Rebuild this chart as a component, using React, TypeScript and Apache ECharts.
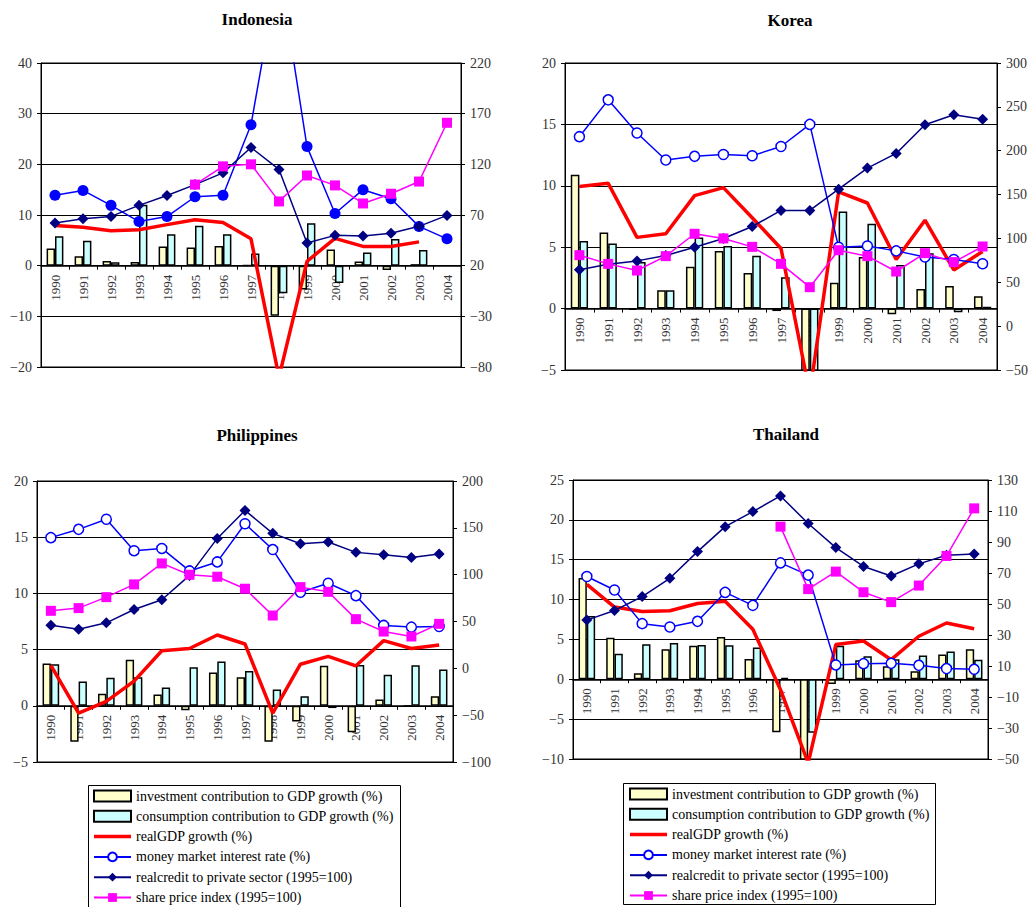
import React, { useEffect, useRef } from 'react';
import * as echarts from 'echarts';

const years = ['1990', '1991', '1992', '1993', '1994', '1995', '1996', '1997', '1998', '1999', '2000', '2001', '2002', '2003', '2004'];

const seriesNames = [
  'investment contribution to GDP growth (%)',
  'consumption contribution to GDP growth (%)',
  'realGDP growth (%)',
  'money market interest rate (%)',
  'realcredit to private sector (1995=100)',
  'share price index (1995=100)',
];

// Indonesia
const idnInvestment = [3.4, 1.85, 0.9, 0.7, 3.8, 3.6, 3.9, 0.1, -9.9, -4.7, 3.2, 0.8, -0.85, 0.3, null];
const idnConsumption = [5.8, 4.9, 0.65, 12.0, 6.2, 7.9, 6.2, 2.4, -5.45, 8.35, -3.4, 2.6, 5.25, 3.1, null];
const idnGdp = [7.95, 7.6, 6.9, 7.1, 8.1, 9.05, 8.5, 5.3, -22, 0.85, 5.4, 3.8, 3.8, 4.7, null];
const idnRate = [13.9, 14.85, 11.9, 8.7, 9.7, 13.6, 13.9, 27.8, 59, 23.5, 10.3, 15.0, 13.2, 7.75, 5.3];
const idnCredit = [62, 66.3, 68.6, 79.5, 89.3, 100, 111.6, 136.6, 115, 42.3, 49.9, 49.2, 52, 58.8, 69.6];
const idnShare = [null, null, null, null, null, 100, 118, 120, 83.4, 109, 99.2, 81.4, 91, 103, 161];

// Korea
const korInvestment = [10.9, 6.2, -0.1, 1.5, 3.4, 4.7, 2.9, -0.2, -10.5, 2.1, 4.2, -0.45, 1.6, 1.85, 1.0];
const korConsumption = [5.5, 5.3, 3.8, 1.5, 5.8, 5.1, 4.3, 2.55, -6, 7.9, 6.9, 3.55, 4.5, -0.3, 0.15];
const korGdp = [9.95, 10.2, 5.8, 6.1, 9.2, 9.85, 7.4, 4.9, -6.9, 9.5, 8.6, 4.0, 7.2, 3.15, 4.65];
const korRate = [14.0, 17.0, 14.3, 12.1, 12.4, 12.55, 12.45, 13.2, 15.0, 5.0, 5.1, 4.7, 4.2, 4.0, 3.65];
const korCredit = [64.2, 70.6, 74.4, 80.5, 90.0, 99.9, 113.6, 131.9, 131.9, 156.2, 180.2, 196.9, 229.6, 241, 236];
const korShare = [80.9, 71, 63.4, 79.8, 105.3, 100, 90.4, 71, 44.4, 86.6, 79.8, 62.3, 83.2, 73, 90.8];

// Philippines
const phlInvestment = [3.77, -3.2, 1.07, 4.1, 1.0, -0.4, 2.97, 2.55, -3.2, -1.4, 3.56, -2.35, 0.56, -0.05, 0.86];
const phlConsumption = [3.7, 2.17, 2.5, 2.55, 1.63, 3.44, 3.95, 3.1, 1.45, 0.86, -0.2, 3.62, 2.76, 3.6, 3.24];
const phlGdp = [3.6, -0.65, 0.4, 2.2, 4.9, 5.1, 6.3, 5.5, -0.65, 3.7, 4.4, 3.56, 5.8, 5.1, 5.4];
const phlRate = [14.96, 15.7, 16.6, 13.8, 14.0, 12.0, 12.8, 16.2, 13.9, 10.1, 10.9, 9.8, 7.15, 7.0, 7.05];
const phlCredit = [46.1, 41.8, 48.6, 62.8, 73.2, 99.2, 138.7, 168.6, 144.1, 133, 134.8, 123.8, 121.3, 118.4, 122];
const phlShare = [61.4, 64.3, 76, 89.6, 112, 99.9, 97.8, 85, 56.4, 86.7, 81.7, 52.5, 39.3, 34, 47.5];

// Thailand
const thaInvestment = [12.7, 5.2, 0.75, 3.76, 4.2, 5.3, 2.55, -6.64, -10.8, -0.58, 2.38, 1.63, 1.0, 3.1, 3.76];
const thaConsumption = [7.94, 3.2, 4.4, 4.55, 4.3, 4.26, 4.0, 0.17, -6.7, 4.2, 2.88, 2.5, 2.97, 3.47, 2.46];
const thaGdp = [11.9, 9.06, 8.5, 8.6, 9.5, 9.8, 6.27, -1.3, -10.5, 4.35, 4.8, 2.46, 5.4, 7.06, 6.35];
const thaRate = [12.9, 11.2, 6.98, 6.56, 7.27, 10.9, 9.27, 14.6, 13.07, 1.8, 1.96, 2.0, 1.75, 1.34, 1.25];
const thaCredit = [39.6, 45.8, 54.8, 66.6, 83.8, 99.9, 109.6, 119.7, 101.9, 86.4, 74.2, 68.1, 75.9, 81.5, 82.3];
const thaShare = [null, null, null, null, null, null, null, 99.9, 59.6, 70.9, 57.6, 51.2, 61.9, 81, 111.7];

const FONT = '"Liberation Serif", "DejaVu Serif", serif';

type Panel = {
  title: string;
  titleX: number;
  titleY: number;
  grid: { left: number; top: number; width: number; height: number };
  left: [number, number, number];
  right: [number, number, number];
  filledRate: boolean;
  inv: (number | null)[];
  cons: (number | null)[];
  gdp: (number | null)[];
  rate: (number | null)[];
  credit: (number | null)[];
  share: (number | null)[];
};

const panels: Panel[] = [
  {
    title: 'Korea', titleX: 785, titleY: 7,
    grid: { left: 565, top: 63, width: 432, height: 307 },
    left: [-5, 20, 5], right: [-50, 300, 50], filledRate: false,
    inv: korInvestment, cons: korConsumption, gdp: korGdp, rate: korRate, credit: korCredit, share: korShare,
  },
  {
    title: 'Philippines', titleX: 252, titleY: 422,
    grid: { left: 37, top: 481, width: 416, height: 281 },
    left: [-5, 20, 5], right: [-100, 200, 50], filledRate: false,
    inv: phlInvestment, cons: phlConsumption, gdp: phlGdp, rate: phlRate, credit: phlCredit, share: phlShare,
  },
  {
    title: 'Thailand', titleX: 781, titleY: 421,
    grid: { left: 573, top: 480, width: 415, height: 279 },
    left: [-10, 25, 5], right: [-50, 130, 20], filledRate: false,
    inv: thaInvestment, cons: thaConsumption, gdp: thaGdp, rate: thaRate, credit: thaCredit, share: thaShare,
  },
  {
    title: 'Indonesia', titleX: 252, titleY: 6,
    grid: { left: 41, top: 63, width: 420, height: 304 },
    left: [-20, 40, 10], right: [-80, 220, 50], filledRate: true,
    inv: idnInvestment, cons: idnConsumption, gdp: idnGdp, rate: idnRate, credit: idnCredit, share: idnShare,
  },
];

const fmt = (v: number) => (v < 0 ? '\u2212' + Math.abs(v) : String(v));

function buildOption() {
  const grids: any[] = [];
  const xAxes: any[] = [];
  const yAxes: any[] = [];
  const series: any[] = [];
  const titles: any[] = [];

  panels.forEach((p, i) => {
    grids.push({ ...p.grid, show: true, borderColor: '#000', borderWidth: 1, backgroundColor: '#fff', containLabel: false });
    titles.push({
      text: p.title, left: p.titleX, top: p.titleY, textAlign: 'center',
      textStyle: { fontFamily: FONT, fontSize: 17, fontWeight: 'bold', color: '#000' },
    });
    // place the category axis on the zero line of the left value axis
    const zeroOffset = -p.grid.height * (0 - p.left[0]) / (p.left[1] - p.left[0]);
    xAxes.push({
      type: 'category', gridIndex: i, data: years, boundaryGap: true,
      position: 'bottom', offset: zeroOffset,
      axisLine: { show: true, onZero: false, lineStyle: { color: '#000', width: 1.5 } },
      axisTick: { show: true, length: 4, lineStyle: { color: '#000', width: 1 } },
      axisLabel: { rotate: 90, interval: 0, fontFamily: FONT, fontSize: 13, color: '#333', margin: 9 },
      splitLine: { show: false },
    });
    yAxes.push({
      type: 'value', gridIndex: i, position: 'left',
      min: p.left[0], max: p.left[1], interval: p.left[2],
      axisLine: { show: true, lineStyle: { color: '#000' } },
      axisTick: { show: true, length: 4, lineStyle: { color: '#000' } },
      axisLabel: { fontFamily: FONT, fontSize: 14, color: '#333', margin: 9, formatter: fmt },
      splitLine: { show: true, lineStyle: { color: '#000', width: 1 } },
    });
    yAxes.push({
      type: 'value', gridIndex: i, position: 'right',
      min: p.right[0], max: p.right[1], interval: p.right[2],
      axisLine: { show: true, lineStyle: { color: '#000' } },
      axisTick: { show: true, length: 4, lineStyle: { color: '#000' } },
      axisLabel: { fontFamily: FONT, fontSize: 14, color: '#333', margin: 9, formatter: fmt },
      splitLine: { show: false },
    });
    const xi = i;
    const yl = 2 * i;
    const yr = 2 * i + 1;
    series.push({
      type: 'bar', name: seriesNames[0], xAxisIndex: xi, yAxisIndex: yl, data: p.inv,
      barGap: '0%', barCategoryGap: '40%',
      itemStyle: { color: '#FFFFCC', borderColor: '#000', borderWidth: 1.5 },
    });
    series.push({
      type: 'bar', name: seriesNames[1], xAxisIndex: xi, yAxisIndex: yl, data: p.cons,
      barGap: '0%', barCategoryGap: '40%',
      itemStyle: { color: '#CCFFFF', borderColor: '#000', borderWidth: 1.5 },
    });
    series.push({
      type: 'line', name: seriesNames[2], xAxisIndex: xi, yAxisIndex: yl, data: p.gdp,
      symbol: 'none', connectNulls: false,
      lineStyle: { color: '#FF0000', width: 3.5 }, itemStyle: { color: '#FF0000' },
    });
    series.push({
      type: 'line', name: seriesNames[3], xAxisIndex: xi, yAxisIndex: yl, data: p.rate,
      symbol: 'circle', symbolSize: p.filledRate ? 11 : 10,
      lineStyle: { color: '#0000FF', width: 1.5 },
      itemStyle: p.filledRate
        ? { color: '#0000FF' }
        : { color: '#FFFFFF', borderColor: '#0000FF', borderWidth: 1.5 },
    });
    series.push({
      type: 'line', name: seriesNames[4], xAxisIndex: xi, yAxisIndex: yr, data: p.credit,
      symbol: 'diamond', symbolSize: 11,
      lineStyle: { color: '#000080', width: 1.5 }, itemStyle: { color: '#000080' },
    });
    series.push({
      type: 'line', name: seriesNames[5], xAxisIndex: xi, yAxisIndex: yr, data: p.share,
      symbol: 'rect', symbolSize: 10, connectNulls: false,
      lineStyle: { color: '#FF00FF', width: 1.5 }, itemStyle: { color: '#FF00FF' },
    });
  });

  const legendData = [
    { name: seriesNames[0], icon: 'rect' },
    { name: seriesNames[1], icon: 'rect' },
    { name: seriesNames[2], icon: 'path://M0,0 H37 V3.5 H0 Z' },
    seriesNames[3],
    seriesNames[4],
    seriesNames[5],
  ];
  const legendCommon = {
    orient: 'vertical', itemWidth: 37, itemHeight: 11, itemGap: 6.3, selectedMode: false,
    padding: 0, data: legendData,
    textStyle: { fontFamily: FONT, fontSize: 14, color: '#000', lineHeight: 14 },
  };

  return {
    animation: false,
    backgroundColor: '#fff',
    title: titles,
    grid: grids,
    xAxis: xAxes,
    yAxis: yAxes,
    series,
    legend: [
      { ...legendCommon, left: 93, top: 789 },
      { ...legendCommon, left: 629, top: 787 },
    ],
    graphic: [
      { type: 'rect', shape: { x: 88.5, y: 785.5, width: 312, height: 125 }, style: { fill: 'none', stroke: '#000', lineWidth: 1 } },
      { type: 'rect', shape: { x: 623.5, y: 783.5, width: 312, height: 121 }, style: { fill: 'none', stroke: '#000', lineWidth: 1 } },
    ],
  };
}

export default function App() {
  const ref = useRef<HTMLDivElement>(null);
  useEffect(() => {
    if (!ref.current) return;
    const chart = echarts.init(ref.current, null, { renderer: 'svg' });
    chart.setOption(buildOption() as any);
    return () => chart.dispose();
  }, []);
  return <div ref={ref} style={{ position: 'fixed', left: 0, top: 0, width: 1031, height: 907 }} />;
}
